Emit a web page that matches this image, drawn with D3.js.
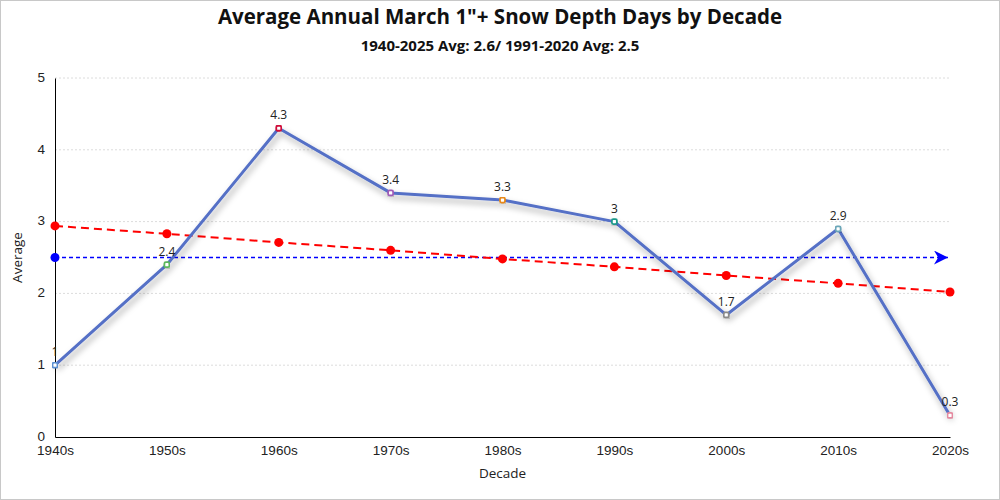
<!DOCTYPE html>
<html lang="en">
<head>
<meta charset="UTF-8">
<title>March Snow Depth Days</title>
<style>
  html, body { margin: 0; padding: 0; background: #fff; }
  svg { display: block; font-family: "Open Sans", "Noto Sans", sans-serif; }
  .grid line { stroke: #dcdcdc; stroke-dasharray: 2,2; }
  .tick text { font-size: 13.5px; fill: #222; }
</style>
</head>
<body>
<svg id="chart"></svg>
<script src="https://d3js.org/d3.v7.min.js"></script>
<script>
var decades = ['1940s', '1950s', '1960s', '1970s', '1980s', '1990s', '2000s', '2010s', '2020s']
var averages = [1, 2.4, 4.3, 3.4, 3.3, 3, 1.7, 2.9, 0.3]
var trend = [2.94, 2.83, 2.71, 2.6, 2.48, 2.37, 2.25, 2.14, 2.02]
var normal = 2.5
var markerColors = ['#5b8fd0', '#5cb85c', '#d0103a', '#a05bb8', '#e8891a', '#1a9a8a', '#8a8a8a', '#6aa6b8', '#e58aa0']
var yTicks = [0, 1, 2, 3, 4, 5]

var W = 1000, H = 500
var m = { left: 55, right: 50, top: 78, bottom: 63 }

var svg = d3.select('#chart').attr('width', W).attr('height', H)

svg.append('rect').attr('x', 0.5).attr('y', 0.5).attr('width', W - 1).attr('height', H - 1)
    .attr('fill', '#fff').attr('stroke', '#c8c8c8')

var defs = svg.append('defs')
var f = defs.append('filter').attr('id', 'shadow').attr('x', '-10%').attr('y', '-10%').attr('width', '120%').attr('height', '130%')
f.append('feDropShadow').attr('dx', 2).attr('dy', 4).attr('stdDeviation', 3)
    .attr('flood-color', '#000').attr('flood-opacity', 0.35)
defs.append('marker').attr('id', 'arrow').attr('viewBox', '0 0 10 10')
    .attr('refX', 10).attr('refY', 5).attr('markerWidth', 14).attr('markerHeight', 14)
    .attr('markerUnits', 'userSpaceOnUse').attr('orient', 'auto')
    .append('path').attr('d', 'M0,0 L10,5 L0,10 L3,5 Z').attr('fill', '#0000ff')

var x = d3.scalePoint().domain(decades).range([m.left, W - m.right]).padding(0)
var y = d3.scaleLinear().domain([0, 5]).range([H - m.bottom, m.top])

// grid
svg.append('g').attr('class', 'grid')
    .selectAll('line').data(yTicks.slice(1)).enter().append('line')
    .attr('x1', m.left).attr('x2', W - m.right)
    .attr('y1', function (d) { return y(d) }).attr('y2', function (d) { return y(d) })

// axes
var xAxis = svg.append('g').attr('transform', 'translate(0,' + y(0) + ')')
    .call(d3.axisBottom(x).tickSize(0).tickPadding(8))
xAxis.select('.domain').attr('stroke', '#000')

var yAxis = svg.append('g').attr('transform', 'translate(' + m.left + ',0)')
    .call(d3.axisLeft(y).tickValues(yTicks).tickSize(0).tickPadding(10).tickFormat(d3.format('d')))
yAxis.select('.domain').attr('stroke', '#000')
yAxis.selectAll('.tick text').attr('dy', '0.25em')

// titles
svg.append('text').attr('x', W / 2).attr('y', 24).attr('text-anchor', 'middle')
    .attr('font-size', 20.5).attr('font-weight', 'bold').attr('fill', '#111')
    .text('Average Annual March 1"+ Snow Depth Days by Decade')
svg.append('text').attr('x', W / 2).attr('y', 51).attr('text-anchor', 'middle')
    .attr('font-size', 15).attr('font-weight', 'bold').attr('fill', '#111')
    .text('1940-2025 Avg: 2.6/ 1991-2020 Avg: 2.5')
svg.append('text').attr('x', (m.left + W - m.right) / 2).attr('y', 478).attr('text-anchor', 'middle')
    .attr('font-size', 13.5).attr('fill', '#222').text('Decade')
svg.append('text').attr('transform', 'translate(22,' + y(2.5) + ') rotate(-90)').attr('text-anchor', 'middle')
    .attr('font-size', 13.5).attr('fill', '#222').text('Average')

// normal line
svg.append('line')
    .attr('x1', x(decades[0])).attr('x2', x(decades[decades.length - 1]) - 2)
    .attr('y1', y(normal)).attr('y2', y(normal))
    .attr('stroke', '#0000ff').attr('stroke-width', 1.5).attr('stroke-dasharray', '4,3')
    .attr('marker-end', 'url(#arrow)')
svg.append('circle').attr('cx', x(decades[0])).attr('cy', y(normal)).attr('r', 4.5).attr('fill', '#0000ff')

// trend line
var line = d3.line()
    .x(function (d, i) { return x(decades[i]) })
    .y(function (d) { return y(d) })
svg.append('path').datum(trend).attr('d', line).attr('fill', 'none')
    .attr('stroke', '#ff0000').attr('stroke-width', 2).attr('stroke-dasharray', '8,5')
svg.selectAll('.tdot').data(trend).enter().append('circle')
    .attr('cx', function (d, i) { return x(decades[i]) })
    .attr('cy', function (d) { return y(d) })
    .attr('r', 4.5).attr('fill', '#ff0000')

// main series
svg.append('path').datum(averages).attr('d', line).attr('fill', 'none')
    .attr('stroke', '#5470c6').attr('stroke-width', 3).attr('stroke-linejoin', 'round')
    .attr('filter', 'url(#shadow)')
svg.selectAll('.pt').data(averages).enter().append('rect')
    .attr('x', function (d, i) { return x(decades[i]) - 2.5 })
    .attr('y', function (d) { return y(d) - 2.5 })
    .attr('width', 5).attr('height', 5).attr('rx', 1.5)
    .attr('fill', '#fff').attr('stroke-width', 1.8)
    .attr('stroke', function (d, i) { return markerColors[i] })
    .attr('filter', 'url(#shadow)')
svg.selectAll('.lbl').data(averages).enter().append('text')
    .attr('x', function (d, i) { return x(decades[i]) })
    .attr('y', function (d) { return y(d) - 9 })
    .attr('text-anchor', 'middle').attr('font-size', 12).attr('fill', '#222')
    .text(function (d) { return d })
</script>
</body>
</html>
